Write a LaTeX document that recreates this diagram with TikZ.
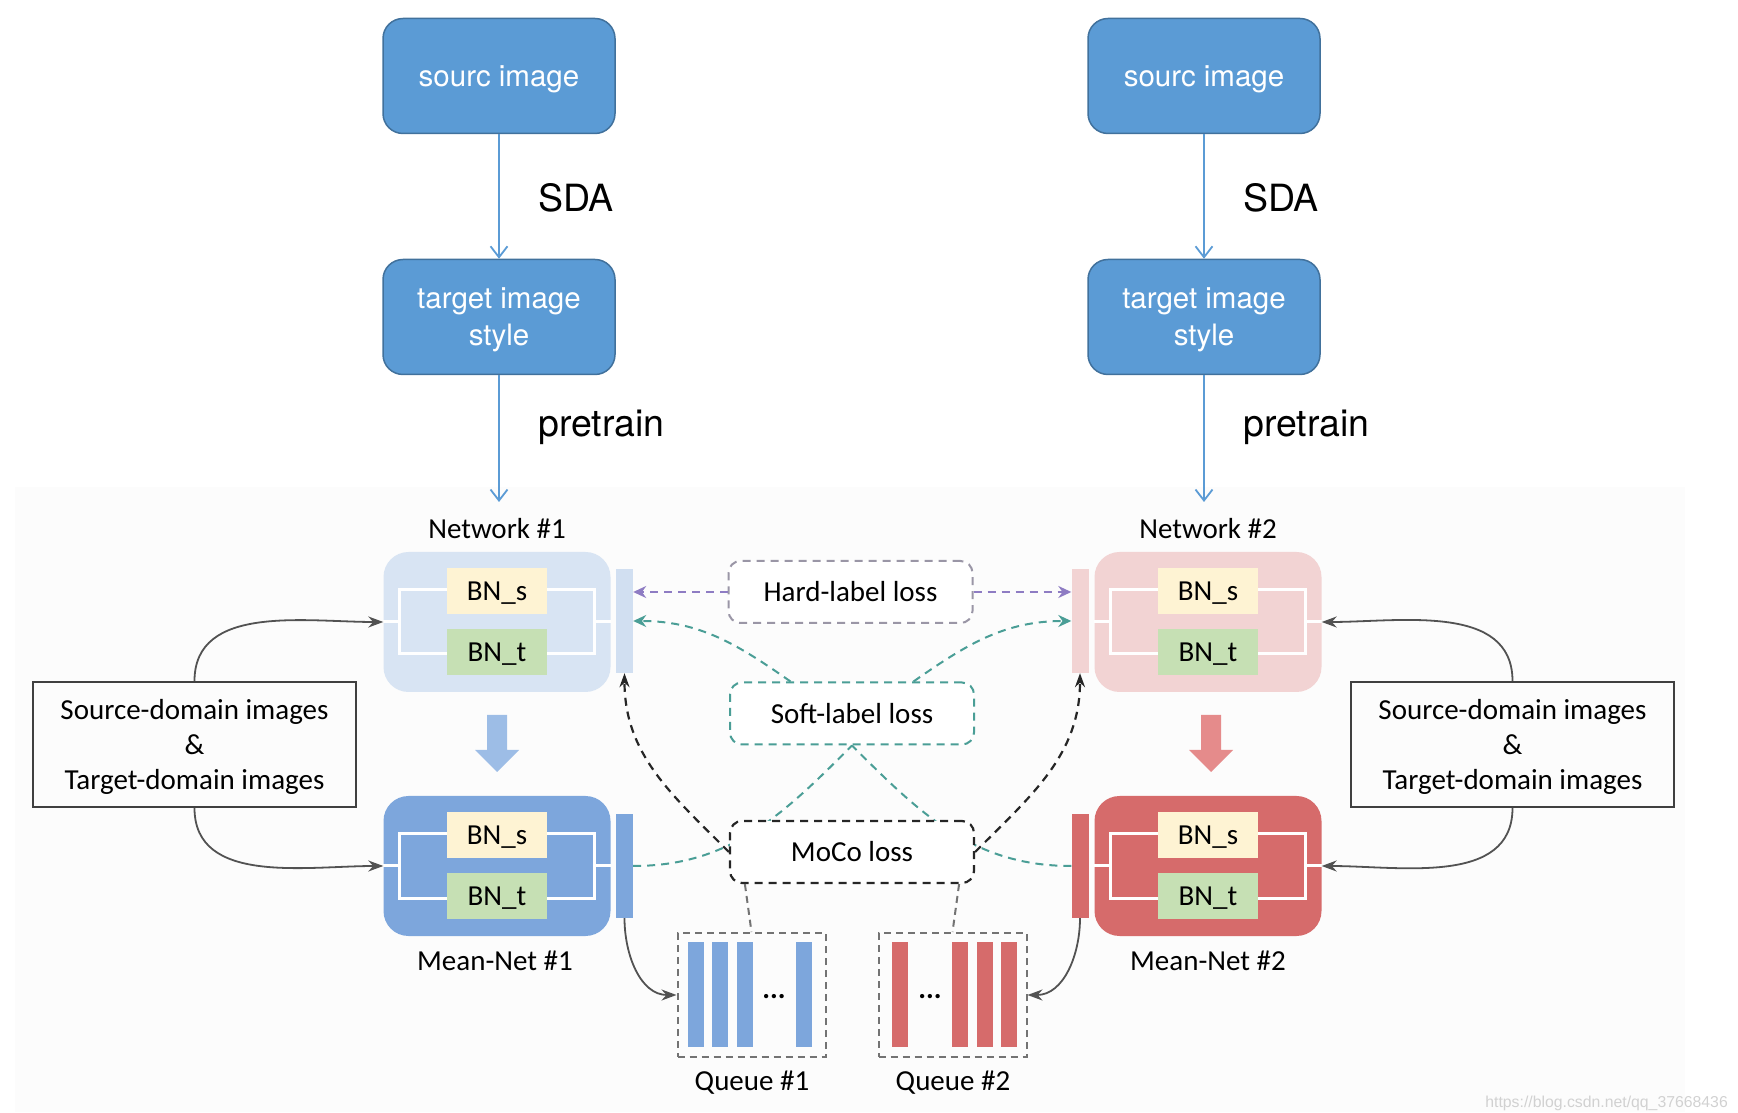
\documentclass[tikz,border=0pt]{standalone}
\usepackage{fontspec}
\newfontfamily\helvfont{TeX Gyre Heros}
\newfontfamily\calfont{Carlito}
\newfontfamily\wmfont{Liberation Sans}
\usetikzlibrary{arrows.meta, calc}

\definecolor{topblue}{HTML}{5B9BD5}
\definecolor{topedge}{HTML}{41719C}
\definecolor{netA}{HTML}{D8E4F3}
\definecolor{meanA}{HTML}{7DA6DC}
\definecolor{netB}{HTML}{F2D3D3}
\definecolor{meanB}{HTML}{D66B6B}
\definecolor{bnS}{HTML}{FEF3D3}
\definecolor{bnT}{HTML}{C6E0B4}
\definecolor{hardline}{HTML}{8E7CC3}
\definecolor{hardbox}{HTML}{9A96A6}
\definecolor{softline}{HTML}{4A9E96}
\definecolor{arrA}{HTML}{9DBDE6}
\definecolor{arrB}{HTML}{E58B8B}

\tikzset{
  topbox/.style={draw=topedge, fill=topblue, line width=1.5pt, rounded corners=20pt,
    minimum width=232pt, minimum height=115pt, align=center, text=white, text depth=0pt,
    font=\helvfont\fontsize{29.5}{37}\selectfont},
  toparrow/.style={draw=topblue, line width=1.8pt, -{Straight Barb[length=11pt,width=17pt]}},
  steplabel/.style={inner sep=0pt, font=\helvfont\fontsize{37.5}{44}\selectfont},
  netbox/.style={rounded corners=25pt, minimum width=227pt, minimum height=140pt, inner sep=0pt},
  frameline/.style={draw=white, line width=3pt},
  bnbox/.style={minimum width=100pt, minimum height=46pt, inner sep=0pt, text depth=0pt,
    font=\calfont\fontsize{29}{35}\selectfont},
  barbox/.style={minimum width=17pt, minimum height=104pt, inner sep=0pt},
  lbl/.style={font=\calfont\fontsize{29}{35}\selectfont},
  srcbox/.style={draw=black!75, line width=2pt, minimum width=323pt, minimum height=125pt,
    align=center, text depth=0pt, font=\calfont\fontsize{29}{35}\selectfont},
  lossbox/.style={dash pattern=on 8pt off 6pt, line width=2pt, rounded corners=12pt, fill=white,
    minimum width=244pt, minimum height=62pt, font=\calfont\fontsize{29}{35}\selectfont},
  queuebox/.style={draw=black!55, dash pattern=on 7pt off 5pt, line width=2pt,
    minimum width=148pt, minimum height=124pt, inner sep=0pt},
  feedarrow/.style={draw=black!68, line width=1.8pt, -{Stealth[length=15pt,width=11pt]}},
  hardarrow/.style={draw=hardline, line width=2pt, dash pattern=on 8pt off 6pt,
    -{Stealth[length=13pt,width=12pt]}},
  softarrow/.style={draw=softline, line width=2pt, dash pattern=on 8pt off 6pt,
    -{Stealth[length=13pt,width=12pt]}},
  softline/.style={draw=softline, line width=2pt, dash pattern=on 8pt off 6pt},
  mocoarrow/.style={draw=black!85, line width=2.2pt, dash pattern=on 8pt off 6pt,
    -{Stealth[length=14pt,width=10pt]}},
}

\begin{document}
\begin{tikzpicture}[x=1pt, y=1pt]
  \useasboundingbox (0,0) rectangle (1738,1112);
  % Background of the lower half
  \fill[black!1] (15,0) rectangle (1685,625);

  % Top chains
  \node[topbox] (simg1) at (499,1036) {sourc image};
  \node[topbox] (timg1) at (499,795) {target image\\style};
  \node[topbox] (simg2) at (1204,1036) {sourc image};
  \node[topbox] (timg2) at (1204,795) {target image\\style};
  \coordinate (pend1) at (499,610);
  \coordinate (pend2) at (1204,610);
  \draw[toparrow] (simg1) -- (timg1);
  \draw[toparrow] (timg1) -- (pend1);
  \draw[toparrow] (simg2) -- (timg2);
  \draw[toparrow] (timg2) -- (pend2);
  \node[steplabel, anchor=base west] (sda1) at (538,900) {SDA};
  \node[steplabel, anchor=base west] (pre1) at (538,675) {pretrain};
  \node[steplabel, anchor=base west] (sda2) at (1243,900) {SDA};
  \node[steplabel, anchor=base west] (pre2) at (1243,675) {pretrain};

  % Networks and mean-nets
  \foreach \nm/\cx/\cy/\col in {net1/497/490/netA, mean1/497/246/meanA,
                                net2/1208/490/netB, mean2/1208/246/meanB}{
    \node[netbox, fill=\col] (\nm) at (\cx,\cy) {};
    \draw[frameline] (\cx-98,\cy-32) rectangle (\cx+97,\cy+32);
    \draw[frameline] (\nm.west) -- (\cx-98,\cy) (\nm.east) -- (\cx+97,\cy);
    \node[bnbox, fill=bnS] (\nm s) at (\cx,\cy+31) {BN\_s};
    \node[bnbox, fill=bnT] (\nm t) at (\cx,\cy-30) {BN\_t};
  }
  \node[barbox, fill=netA!92!meanA] (bar1) at (624.5,491) {};
  \node[barbox, fill=meanA] (mbar1) at (624.5,246) {};
  \node[barbox, fill=netB] (bar2) at (1080,491) {};
  \node[barbox, fill=meanB] (mbar2) at (1080,246) {};
  \node[lbl] (net1lbl) at (497,583) {Network \#1};
  \node[lbl] (net2lbl) at (1208,583) {Network \#2};
  \node[lbl] (mean1lbl) at (495,151) {Mean-Net \#1};
  \node[lbl] (mean2lbl) at (1208,151) {Mean-Net \#2};
  % Update arrows
  \foreach \ax/\acol in {497/arrA, 1211/arrB}
    \fill[\acol] (\ax-10,397) -- (\ax+10,397) -- (\ax+10,362) -- (\ax+22,362)
      -- (\ax,340) -- (\ax-22,362) -- (\ax-10,362) -- cycle;

  % Image inputs
  \node[srcbox] (src1) at (194.5,367.5) {Source-domain images\\\&\\Target-domain images};
  \node[srcbox] (src2) at (1512.5,367.5) {Source-domain images\\\&\\Target-domain images};
  \draw[feedarrow] (src1.north) to[out=90, in=180] (net1.west);
  \draw[feedarrow] (src1.south) to[out=-90, in=180] (mean1.west);
  \draw[feedarrow] (src2.north) to[out=90, in=0] (net2.east);
  \draw[feedarrow] (src2.south) to[out=-90, in=0] (mean2.east);

  % Losses
  \node[lossbox, draw=hardbox] (hard) at (850.5,520) {Hard-label loss};
  \node[lossbox, draw=softline] (soft) at (852,398.5) {Soft-label loss};
  \draw[hardarrow] (hard.west) -- (hard.west -| bar1.east);
  \draw[hardarrow] (hard.east) -- (hard.east -| bar2.west);
  \draw[softarrow] ($(soft.north west)!0.5!(soft.north)$) to[out=145, in=0] (bar1.east);
  \draw[softarrow] ($(soft.north east)!0.5!(soft.north)$) to[out=35, in=180] (bar2.west);
  \draw[softline] (mbar1.east) to[out=0, in=225] (soft.south);
  \draw[softline] (mbar2.west) to[out=180, in=-45] (soft.south);
  \node[lossbox, draw=black!85, line width=2.2pt] (moco) at (852,260) {MoCo loss};
  \draw[mocoarrow] (moco.west) to[out=135, in=-90] (bar1.south);
  \draw[mocoarrow] (moco.east) to[out=45, in=-90] (bar2.south);

  % Queues
  \node[queuebox] (q1) at (751.5,117) {};
  \node[queuebox] (q2) at (952.5,117) {};
  \foreach \qx in {696,720,744.5,804}
    \fill[meanA] (\qx-8,65) rectangle (\qx+8,170);
  \foreach \qx in {900,960,985,1009}
    \fill[meanB] (\qx-8,65) rectangle (\qx+8,170);
  \node[lbl] (dots1) at (774,115) {\textbf{...}};
  \node[lbl] (dots2) at (930,115) {\textbf{...}};
  \node[lbl] (q1lbl) at (752,29) {Queue \#1};
  \node[lbl] (q2lbl) at (953,29) {Queue \#2};
  \draw[queuebox] ($(moco.south west)+(16,0)$) -- (q1.north);
  \draw[queuebox] ($(moco.south east)+(-16,0)$) -- (q2.north);
  \draw[feedarrow] (mbar1.south) to[out=-90, in=180] (q1.west);
  \draw[feedarrow] (mbar2.south) to[out=-90, in=0] (q2.east);

  % Watermark
  \node[anchor=base east, inner sep=0pt, text=black!18, font=\wmfont\fontsize{15.8}{18}\selectfont]
    (wm) at (1728,5) {https://blog.csdn.net/qq\_37668436};
\end{tikzpicture}
\end{document}
